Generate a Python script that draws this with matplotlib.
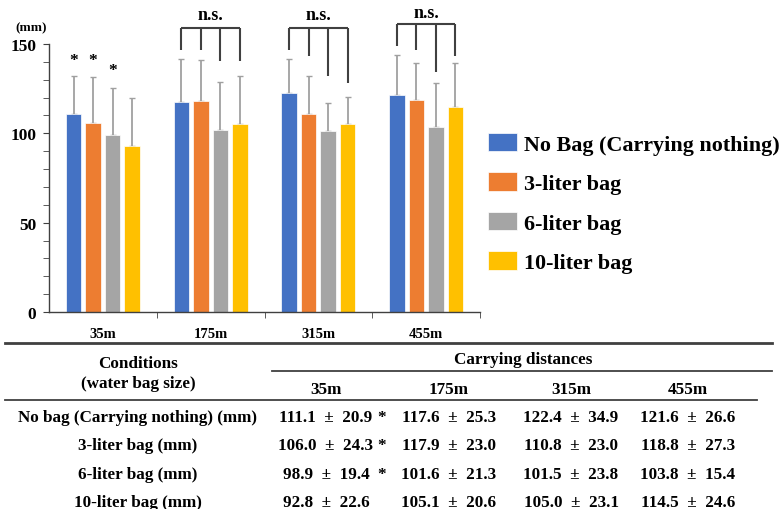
import matplotlib
matplotlib.use('Agg')
import matplotlib.pyplot as plt
import numpy as np
from matplotlib.lines import Line2D

plt.rcParams['font.family'] = ['Liberation Serif', 'DejaVu Serif']
plt.rcParams['font.weight'] = 'bold'

distances = ['35m', '175m', '315m', '455m']
series = ['No Bag (Carrying nothing)', '3-liter bag', '6-liter bag', '10-liter bag']
row_labels = ['No bag (Carrying nothing) (mm)', '3-liter bag (mm)', '6-liter bag (mm)', '10-liter bag (mm)']
colors = ['#4472C4', '#ED7D31', '#A5A5A5', '#FFC000']

# table: mean and SD per bag (rows) and distance (columns)
means = [[111.1, 117.6, 122.4, 121.6],
         [106.0, 117.9, 110.8, 118.8],
         [98.9, 101.6, 101.5, 103.8],
         [92.8, 105.1, 105.0, 114.5]]
sds = [[20.9, 25.3, 34.9, 26.6],
       [24.3, 23.0, 23.0, 27.3],
       [19.4, 21.3, 23.8, 15.4],
       [22.6, 20.6, 23.1, 24.6]]
signif = [[True, False, False, False],
          [True, False, False, False],
          [True, False, False, False],
          [False, False, False, False]]

# error bars as drawn in the chart
chart_err = [[20.8, 24.0, 19.4, 22.2],
             [25.5, 23.0, 21.1, 20.6],
             [26.3, 27.3, 15.5, 24.3],
             [26.8, 27.2, 15.3, 24.9]]

star_y = [141, 141, 135.5]
# n.s. brackets: top level and drop levels per bar
ns_top = [159, 159, 161]
ns_text_y = [166.3, 166.3, 167.4]
ns_drop = [[146.6, 146.6, 140.5, 140.5],
           [146.6, 143.1, 132.3, 128.2],
           [149.0, 146.6, 134.5, 143.1]]

W, H = 783, 510
fig = plt.figure(figsize=(W / 100, H / 100), dpi=100)
ax = fig.add_axes([49 / W, (H - 313) / H, (480 - 49) / W, (313 - 45) / H])

x = np.arange(len(distances))
step = 0.181
width = 0.144
bars = []
for i in range(len(series)):
    xs = x + (i - 1.5) * step
    b = ax.bar(xs, means[i], width, color=colors[i], edgecolor='white', linewidth=0.5,
               label=series[i], zorder=2)
    bars.append(b)
    ax.errorbar(xs, means[i], yerr=[np.zeros(4), chart_err[i]], fmt='none', ecolor='#a0a0a0',
                elinewidth=1.3, capsize=2, capthick=1.0, zorder=1)

# asterisks at 35m
for i in range(3):
    ax.text(x[0] + (i - 1.5) * step, star_y[i], '*', ha='center', va='center', fontsize=12.5,
            fontweight='bold')

# n.s. brackets
for k, top in enumerate(ns_top):
    c = x[k + 1]
    xs = c + (np.arange(4) - 1.5) * step
    ax.plot([xs[0], xs[-1]], [top, top], color='#404040', lw=1.5, clip_on=False,
            solid_capstyle='butt')
    for j in range(4):
        ax.plot([xs[j], xs[j]], [top, ns_drop[k][j]], color='#404040', lw=1.5, clip_on=False,
                solid_capstyle='butt')
    ax.text(c, ns_text_y[k], 'n.s.', ha='center', va='center', fontsize=13, fontweight='bold')

ax.set_xlim(-0.5, 3.5)
ax.set_ylim(0, 150)
ax.set_yticks([0, 50, 100, 150])
ax.set_yticks(np.arange(0, 151, 10), minor=True)
ax.set_xticks(np.arange(0.5, 3.6, 1), minor=True)
ax.set_xticks(x)
ax.set_xticklabels(distances, fontsize=10.5, fontweight='bold')
ax.tick_params(axis='x', which='major', length=0, pad=11)
ax.tick_params(axis='x', which='minor', length=4, color='#404040')
ax.tick_params(axis='y', which='both', length=4, color='#404040', labelsize=12.5, pad=5)
ax.tick_params(axis='x', which='minor', labelbottom=False)
for lab in ax.get_yticklabels():
    lab.set_fontweight('bold')
for s in ['top', 'right']:
    ax.spines[s].set_visible(False)
ax.spines['left'].set_color('#404040')
ax.spines['bottom'].set_color('#404040')
ax.spines['left'].set_linewidth(1.0)
ax.spines['bottom'].set_linewidth(1.0)

fig.text(15 / W, 1 - 28 / H, '(mm)', fontsize=9.5, fontweight='bold', va='center', ha='left')

fig.legend(handles=bars, labels=series, loc='upper left', bbox_to_anchor=(488 / W, 1 - 134 / H),
           frameon=False, prop={'weight': 'bold', 'size': 15.9},
           handlelength=1.3, handleheight=0.9, handletextpad=0.35, labelspacing=0.8,
           borderpad=0, borderaxespad=0)

# table
def fy(py):
    return 1 - py / H

fig.add_artist(Line2D([5 / W, 772 / W], [fy(344), fy(344)], color='#404040', lw=2))
fig.add_artist(Line2D([272 / W, 772 / W], [fy(372), fy(372)], color='#404040', lw=1.3))
fig.add_artist(Line2D([5 / W, 757 / W], [fy(401), fy(401)], color='#404040', lw=1.3))

tfs = 12.3
fig.text(138 / W, fy(364), 'Conditions', ha='center', va='center', fontsize=tfs, fontweight='bold')
fig.text(138 / W, fy(384), '(water bag size)', ha='center', va='center', fontsize=tfs,
         fontweight='bold')
fig.text(523 / W, fy(360), 'Carrying distances', ha='center', va='center', fontsize=tfs,
         fontweight='bold')
col_x = [326, 449, 571, 688]
for j, d in enumerate(distances):
    fig.text(col_x[j] / W, fy(390), d, ha='center', va='center', fontsize=tfs, fontweight='bold')
row_y = [418, 446, 475, 503]
for i, rl in enumerate(row_labels):
    fig.text(138 / W, fy(row_y[i]), rl, ha='center', va='center', fontsize=tfs, fontweight='bold')
    for j in range(len(distances)):
        fig.text(col_x[j] / W, fy(row_y[i]), f'{means[i][j]:.1f}  \u00b1  {sds[i][j]:.1f}',
                 ha='center', va='center', fontsize=tfs, fontweight='bold')
        if signif[i][j]:
            fig.text((col_x[j] + 56) / W, fy(row_y[i]), '*', ha='center', va='center',
                     fontsize=tfs, fontweight='bold')

fig.savefig('out.png', dpi=100)
